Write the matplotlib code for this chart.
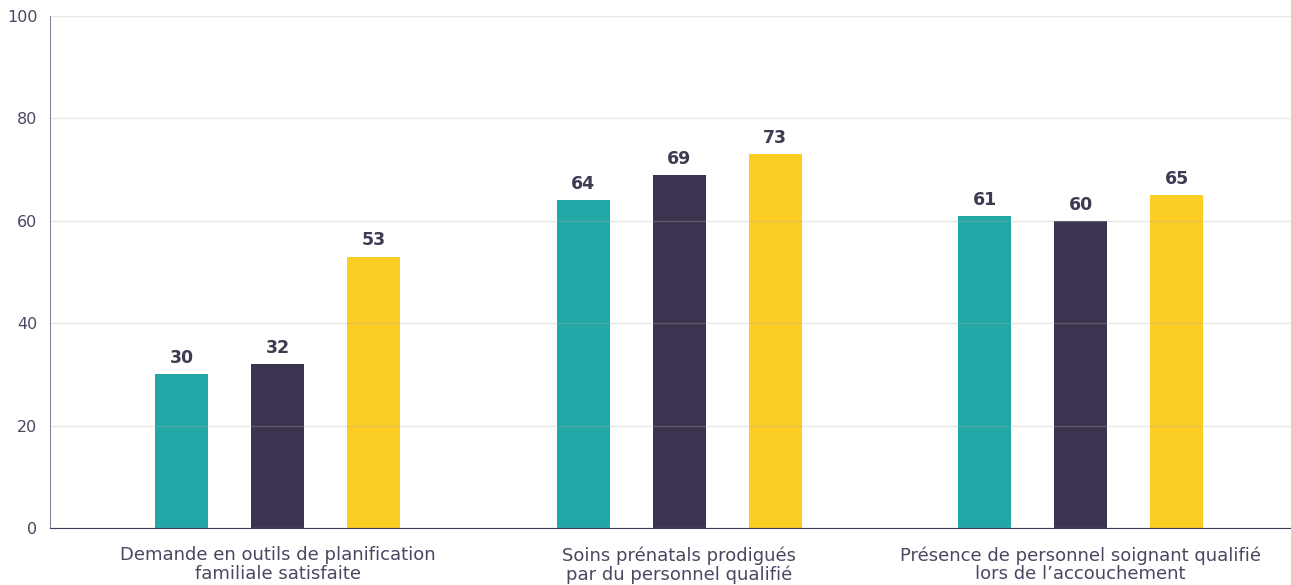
import numpy as np
import matplotlib.pyplot as plt

categories = ["Demande en outils de planification\nfamiliale satisfaite",
              "Soins prénatals prodigués\npar du personnel qualifié",
              "Présence de personnel soignant qualifié\nlors de l’accouchement"]
serie_a = [30, 64, 61]
serie_b = [32, 69, 60]
serie_c = [53, 73, 65]
couleurs = ["#20a7a6", "#3b3350", "#fccd22"]
yticks = [0, 20, 40, 60, 80, 100]

fig = plt.figure(figsize=(12.91, 5.85), dpi=100)
ax = fig.add_axes([50/1291, 57/585, 1241/1291, 512/585])

x = np.arange(len(categories))
w = 0.132
off = 0.239
for i, (vals, c) in enumerate(zip([serie_a, serie_b, serie_c], couleurs)):
    bars = ax.bar(x + (i - 1) * off, vals, width=w, color=c, zorder=1)
    for b, v in zip(bars, vals):
        ax.text(b.get_x() + b.get_width() / 2, v + 1.4, str(v), ha='center', va='bottom',
                fontsize=12.5, fontweight='bold', color='#3d3a52')

ax.set_ylim(0, 100)
ax.set_xlim(-0.567, 2.524)
ax.set_yticks(yticks)
ax.set_yticklabels([str(t) for t in yticks], fontsize=11.5, color='#4a4760')
ax.yaxis.grid(True, color='#b0b0b0', alpha=0.3, lw=1, zorder=3)
ax.set_axisbelow(False)
ax.tick_params(axis='y', length=0, pad=9)
ax.tick_params(axis='x', length=0, pad=13)
ax.set_xticks(x)
ax.set_xticklabels(categories, fontsize=13, color='#4a4760', linespacing=1.05)

for s in ['top', 'right']:
    ax.spines[s].set_visible(False)
ax.spines['left'].set_color('#8a8898')
ax.spines['bottom'].set_color('#3d3a52')
ax.spines['left'].set_zorder(5)
ax.spines['bottom'].set_zorder(5)

fig.savefig('out.png', dpi=100)
